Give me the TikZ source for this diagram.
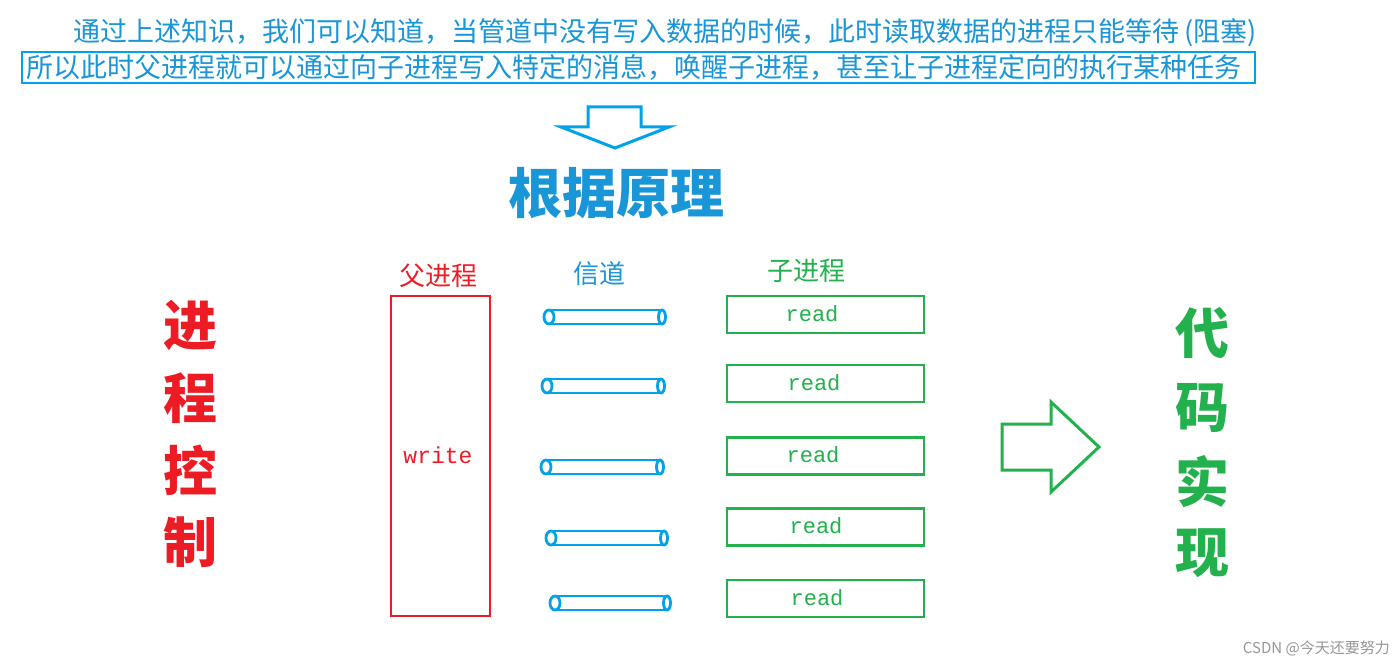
\documentclass[tikz,border=0pt]{standalone}
\usepackage{fontspec}
\newfontfamily\cjk{Noto Sans CJK SC}
\newfontfamily\monof{Liberation Mono}
\definecolor{cblue}{RGB}{0,162,232}
\definecolor{tblue}{RGB}{25,150,215}
\definecolor{cred}{RGB}{237,28,36}
\definecolor{cgreen}{RGB}{34,177,76}
\definecolor{wgray}{RGB}{150,150,150}
\begin{document}
\begin{tikzpicture}[x=1pt,y=-1pt,
  txt/.style={inner sep=0pt,outer sep=0pt,font=\cjk\fontsize{27}{27}\selectfont,text=tblue},
  big/.style={inner sep=0pt,font=\cjk\bfseries\fontsize{54}{54}\selectfont},
  lab/.style={inner sep=0pt,font=\cjk\fontsize{26}{26}\selectfont},
  gbox/.style={draw=cgreen,line width=2.8pt,minimum width=197pt,minimum height=37pt,inner sep=0pt},
  rtxt/.style={inner sep=0pt,font=\monof\fontsize{22}{22}\selectfont,text=cgreen},
  pipe/.style={draw=cblue,line width=2.8pt},
  arrowshape/.style={line width=3pt,line join=miter}
]
\useasboundingbox (0,0) rectangle (1400,666);
\fill[white] (0,0) rectangle (1400,666);

% top text
\node[txt,anchor=west] (l1) at (73,33) {通过上述知识，我们可以知道，当管道中没有写入数据的时候，此时读取数据的进程只能等待\,(阻塞)};
\node[txt,anchor=west] (l2) at (27,67) {所以此时父进程就可以通过向子进程写入特定的消息，唤醒子进程，甚至让子进程定向的执行某种任务};
\draw[cblue,line width=1.3pt] (22,52) rectangle (1255,83);

% down arrow
\draw[cblue,arrowshape] (588,107) -- (641,107) -- (641,127) -- (669,127) -- (615,148) -- (561,127) -- (588,127) -- cycle;
\node[big,text=tblue] (yl) at (616,193) {根据原理};

% left vertical
\node[big,text=cred] (k1) at (190,326) {进};
\node[big,text=cred] (k2) at (190,398) {程};
\node[big,text=cred] (k3) at (190,470) {控};
\node[big,text=cred] (k4) at (190,542) {制};

% right vertical
\node[big,text=cgreen] (d1) at (1202,333) {代};
\node[big,text=cgreen] (d2) at (1202,408) {码};
\node[big,text=cgreen] (d3) at (1202,482) {实};
\node[big,text=cgreen] (d4) at (1202,553) {现};

% column labels
\node[lab,text=cred] (fp) at (438,276) {父进程};
\node[lab,text=tblue] (xd) at (599,274) {信道};
\node[lab,text=cgreen] (zp) at (806,271) {子进程};

% parent rectangle
\node[draw=cred,line width=2.8pt,minimum width=99pt,minimum height=320pt,inner sep=0pt] (par) at (440.5,456) {};
\node[inner sep=0pt,font=\monof\fontsize{23}{23}\selectfont,text=cred] (wr) at (438,455) {write};

% pipes
\foreach \a/\b/\y in {549/662/317, 547/661/386, 546/660/467, 551/664/538, 555/667/603} {
  \draw[pipe] (\a,{\y-7}) -- (\b,{\y-7}) (\a,{\y+7}) -- (\b,{\y+7});
  \draw[pipe,fill=white] (\a,\y) ellipse [x radius=5, y radius=7];
  \draw[pipe,fill=white] (\b,\y) ellipse [x radius=3.5, y radius=7];
}

% child boxes
\foreach \y/\tx/\n in {314.5/812/1, 383.5/814/2, 456/813/3, 527/816/4, 598.5/817/5} {
  \node[gbox] (c\n) at (825.5,\y) {};
  \node[rtxt] (t\n) at (\tx,{\y-1}) {read};
}

% right arrow
\draw[cgreen,arrowshape] (1002,424) -- (1051,424) -- (1051,402) -- (1099,447) -- (1051,492) -- (1051,470) -- (1002,470) -- cycle;

% watermark
\node[inner sep=0pt,anchor=east,font=\cjk\fontsize{15}{15}\selectfont,text=wgray] (wm) at (1390,648) {CSDN @今天还要努力};
\end{tikzpicture}
\end{document}
